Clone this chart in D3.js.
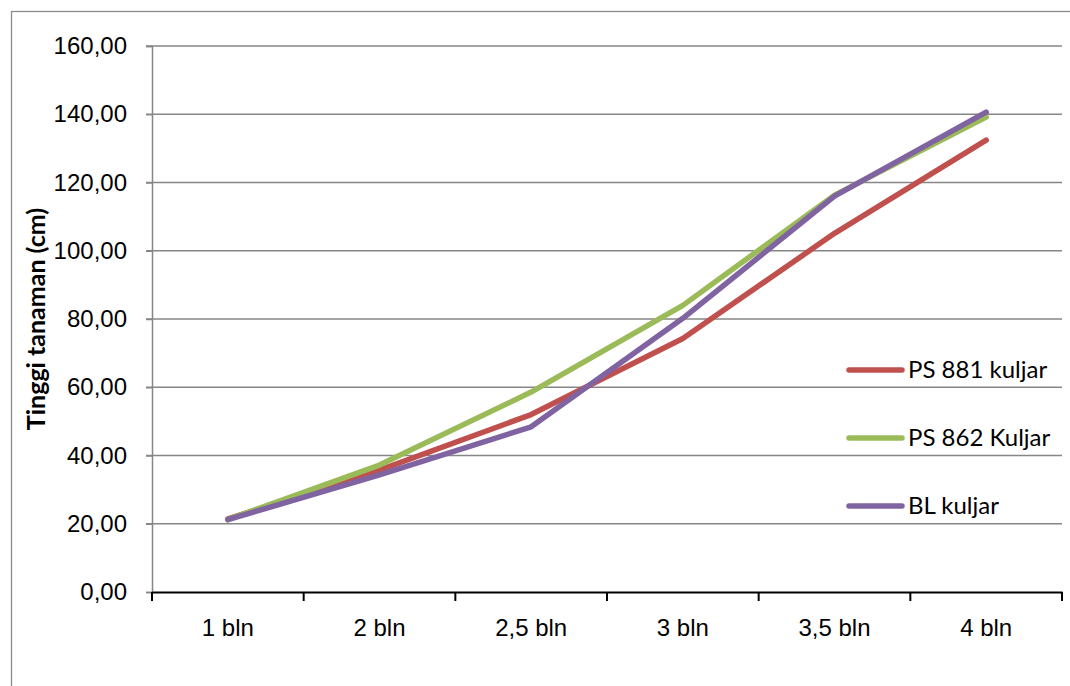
<!DOCTYPE html>
<html>
<head>
<meta charset="utf-8">
<script src="https://cdn.jsdelivr.net/npm/d3@7"></script>
<style>
  body { margin: 0; background: #fff; }
  svg { font-family: Lato, "Open Sans", sans-serif; }
</style>
</head>
<body>
<div id="chart"></div>
<script>
const months = ["1 bln", "2 bln", "2,5 bln", "3 bln", "3,5 bln", "4 bln"]
const ps881 = [21.4, 35.7, 52.0, 74.3, 105.1, 132.4]
const ps862 = [21.2, 37.2, 58.6, 84.0, 116.3, 139.2]
const blKuljar = [21.2, 34.3, 48.4, 80.2, 116.0, 140.6]
const seriesNames = ["PS 881 kuljar", "PS 862 Kuljar", "BL kuljar"]
const yTicks = [0, 20, 40, 60, 80, 100, 120, 140, 160]

const series = [
    { name: seriesNames[0], values: ps881, color: "#C0504D" },
    { name: seriesNames[1], values: ps862, color: "#9BBB59" },
    { name: seriesNames[2], values: blKuljar, color: "#8064A2" }
]

const W = 1070, H = 686
const fs = 24
let margin = { top: 46, right: 8, bottom: 94, left: 152 },
    width = W - margin.left - margin.right,
    height = H - margin.top - margin.bottom;

const root = d3.select("#chart").append("svg")
    .attr("width", W)
    .attr("height", H)

// chart border
root.append("rect")
    .attr("x", 11.5).attr("y", 11.5)
    .attr("width", W + 20).attr("height", H + 20)
    .attr("fill", "none")
    .attr("stroke", "#8c8c8c")
    .attr("stroke-width", 1.3)

const svg = root.append("g")
    .attr("transform", `translate(${margin.left}, ${margin.top})`);

/* scales */
let x = d3.scaleBand()
    .range([0, width])
    .domain(months)

let y = d3.scaleLinear()
    .domain([0, 160])
    .range([height, 0]);

/* grid */
svg.append("g")
    .selectAll("line")
    .data(yTicks.filter(d => d > 0))
    .enter()
    .append("line")
    .attr("x1", -6)
    .attr("x2", width)
    .attr("y1", d => y(d))
    .attr("y2", d => y(d))
    .attr("stroke", "#868686")
    .attr("stroke-width", 1.5)

/* Y-axis */
const yAxis = svg.append("g")
    .call(d3.axisLeft(y).tickValues(yTicks).tickSize(6).tickPadding(19)
        .tickFormat(d => d3.format(".2f")(d).replace(".", ",")))
yAxis.select(".domain").attr("stroke", "#868686").attr("stroke-width", 1.5)
yAxis.selectAll(".tick line").attr("stroke", "#868686").attr("stroke-width", 1.5)
yAxis.selectAll("text")
    .attr("font-size", fs)
    .attr("fill", "#000")

/* X-axis */
const xAxis = svg.append("g")
    .attr("transform", `translate(0, ${height})`)
    .call(d3.axisBottom(x).tickSize(0).tickPadding(27))
xAxis.select(".domain").attr("stroke", "#000").attr("stroke-width", 2.2)
xAxis.selectAll("text")
    .attr("font-size", fs)
    .attr("fill", "#000")

// tick marks on band edges
xAxis.selectAll(".edge")
    .data(months.concat(["end"]))
    .enter()
    .append("line")
    .attr("class", "edge")
    .attr("x1", (d, i) => i * x.step())
    .attr("x2", (d, i) => i * x.step())
    .attr("y1", 0)
    .attr("y2", 9)
    .attr("stroke", "#000")
    .attr("stroke-width", 2)

svg.append("text")
    .attr("text-anchor", "middle")
    .attr("transform", "rotate(-90)")
    .attr("x", -273)
    .attr("y", -107)
    .attr("font-size", 25)
    .attr("font-weight", "bold")
    .text("Tinggi tanaman (cm)")

/* lines */
const line = d3.line()
    .x((d, i) => x(months[i]) + x.bandwidth() / 2)
    .y(d => y(d))

svg.selectAll(".series")
    .data(series)
    .enter()
    .append("path")
    .attr("class", "series")
    .attr("d", d => line(d.values))
    .attr("fill", "none")
    .attr("stroke", d => d.color)
    .attr("stroke-width", 5.5)
    .attr("stroke-linejoin", "round")
    .attr("stroke-linecap", "round")

/* legend */
const legend = root.append("g")
    .attr("transform", "translate(849, 370)")

const items = legend.selectAll("g")
    .data(series)
    .enter()
    .append("g")
    .attr("transform", (d, i) => `translate(0, ${i * 68})`)

items.append("line")
    .attr("x1", 0).attr("x2", 53)
    .attr("y1", 0).attr("y2", 0)
    .attr("stroke", d => d.color)
    .attr("stroke-width", 5.5)
    .attr("stroke-linecap", "round")

items.append("text")
    .attr("x", 59)
    .attr("y", 8)
    .attr("font-size", fs)
    .attr("fill", "#000")
    .text(d => d.name)
</script>
</body>
</html>
